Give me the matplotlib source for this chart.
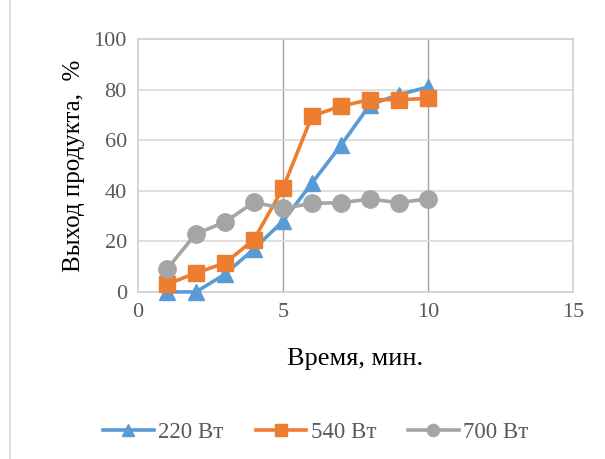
import matplotlib
matplotlib.use("Agg")
import matplotlib.pyplot as plt
from matplotlib.lines import Line2D

plt.rcParams['font.family'] = ['Liberation Serif', 'DejaVu Serif']

x = [1, 2, 3, 4, 5, 6, 7, 8, 9, 10]
s220 = [0, 0, 7, 17, 28, 43, 58, 74, 78, 81]
s540 = [3, 7.5, 11.4, 20.7, 41, 69.5, 73.5, 76, 76, 76.5]
s700 = [9, 23, 27.6, 35.5, 33, 35, 35.3, 36.7, 35.3, 36.8]
labels = ['220 Вт', '540 Вт', '700 Вт']
xticks = [0, 5, 10, 15]
yticks = [0, 20, 40, 60, 80, 100]

fig = plt.figure(figsize=(6.05, 4.59), dpi=100)
ax = fig.add_axes([0.228, 0.364, 0.719, 0.551])

tc = '#595959'
ax.set_xlim(0, 15)
ax.set_ylim(0, 100)
ax.set_xticks(xticks)
ax.set_yticks(yticks)
ax.tick_params(length=0, labelsize=16, colors=tc, pad=8)
ax.set_axisbelow(True)
ax.grid(axis='y', color='#D9D9D9', lw=1.2)
for v in [5, 10]:
    ax.axvline(v, color='#A0A0A0', lw=1.0, zorder=0.5)
for s in ax.spines.values():
    s.set_color('#D0D0D0')
    s.set_linewidth(1.2)

ax.plot(x, s220, color='#5B9BD5', lw=2.6, marker='^', ms=12, label=labels[0], clip_on=False, zorder=3)
ax.plot(x, s540, color='#ED7D31', lw=2.6, marker='s', ms=12, label=labels[1], clip_on=False, zorder=3)
ax.plot(x, s700, color='#A5A5A5', lw=2.6, marker='o', ms=12.5, label=labels[2], clip_on=False, zorder=3)

ax.set_ylabel('Выход продукта,  %', fontsize=18, color='black', labelpad=6)
ax.set_xlabel('Время, мин.', fontsize=19, color='black', labelpad=19)

leg = fig.legend(loc='center', bbox_to_anchor=(0.522, 0.058), ncol=3, frameon=False,
                 fontsize=16.5, handlelength=2.2, columnspacing=1.4, handletextpad=0.2, markerscale=0.7)
for t in leg.get_texts():
    t.set_color(tc)

fig.add_artist(Line2D([10/605, 10/605], [0, 1], color='#D9D9D9', lw=1.2, transform=fig.transFigure))

fig.savefig('out.png', dpi=100)
